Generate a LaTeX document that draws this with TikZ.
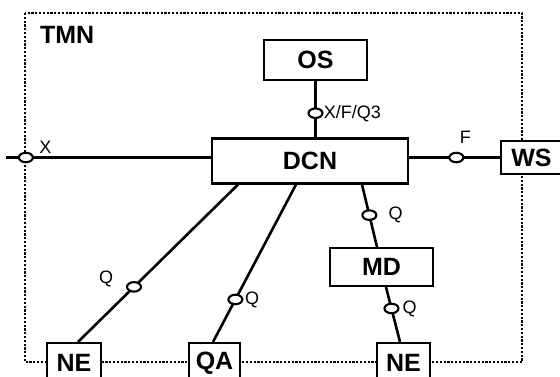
\documentclass[tikz,border=0pt]{standalone}
\usepackage{fontspec}
\setmainfont{Liberation Sans}
\usetikzlibrary{positioning,shapes.geometric}

\begin{document}
\begin{tikzpicture}[x=1pt,y=-1pt,
    box/.style={draw,line width=2.1pt,fill=white,inner sep=0pt,anchor=center,
      font=\fontsize{25}{26}\selectfont\bfseries},
    port/.style={ellipse,draw,line width=2.1pt,fill=white,inner sep=0pt,
      minimum width=14pt,minimum height=9.5pt},
    lbl/.style={inner sep=0pt,font=\fontsize{18}{19}\selectfont},
    wire/.style={line width=2.6pt}]
  \useasboundingbox (0,0) rectangle (560,376);
  % TMN border
  \draw[line width=2.6pt,dash pattern=on 2.2pt off 1.6pt] (25,13) rectangle (522,362);
  \node[box,draw=none,fill=none,anchor=west] (tmn) at (39,35) {TMN};
  % blocks
  \node[box,minimum width=103pt,minimum height=40pt] (os) at (315.5,60) {OS};
  \node[box,minimum width=196pt,minimum height=45pt] (dcn) at (310,161) {DCN};
  \node[box,minimum width=61pt,minimum height=33pt] (ws) at (531.5,157.5) {WS};
  \node[box,minimum width=103pt,minimum height=38pt] (md) at (381.5,267) {MD};
  \foreach \xpos/\boxwd/\nodename/\boxtext in {74/54/ne1/NE,214.5/51/qa/QA,403.5/53/ne2/NE}{%
    \node[box,minimum width=\boxwd pt,minimum height=40pt] (\nodename) at (\xpos,363) {\boxtext};
  }
  % interfaces
  \coordinate (xend) at (6,157.5);
  \draw[wire] (xend) -- (xend -| dcn.west) node[port,pos=.097] (px) {};
  \node[lbl] at ([xshift=19.5pt,yshift=10pt]px) {X};
  \draw[wire] (os.south) -- (os.south |- dcn.north) node[port,pos=.57] (pq3) {};
  \node[lbl,right=0pt of pq3] {X/F/Q3};
  \draw[wire] (dcn.east |- ws.west) -- (ws.west) node[port,pos=.52] (pf) {};
  \node[lbl] at ([xshift=9pt,yshift=20pt]pf) {F};
  \draw[wire] ([xshift=-72pt]dcn.south) -- ([xshift=4pt]ne1.north) node[port,pos=.65] (pq1) {};
  \node[lbl] at ([xshift=-28pt,yshift=8pt]pq1) {Q};
  \draw[wire] ([xshift=-14pt]dcn.south) -- ([xshift=-1.5pt]qa.north) node[port,pos=.73] (pq2) {};
  \node[lbl,right=1.5pt of pq2] {Q};
  \draw[wire] ([xshift=52pt]dcn.south) -- ([xshift=-4.5pt]md.north) node[port,pos=.49] (pq4) {};
  \node[lbl,right=11pt of pq4] {Q};
  \draw[wire] ([xshift=4.5pt]md.south) -- ([xshift=-3.5pt]ne2.north) node[port,pos=.39] (pq5) {};
  \node[lbl,right=3pt of pq5] {Q};
\end{tikzpicture}
\end{document}
